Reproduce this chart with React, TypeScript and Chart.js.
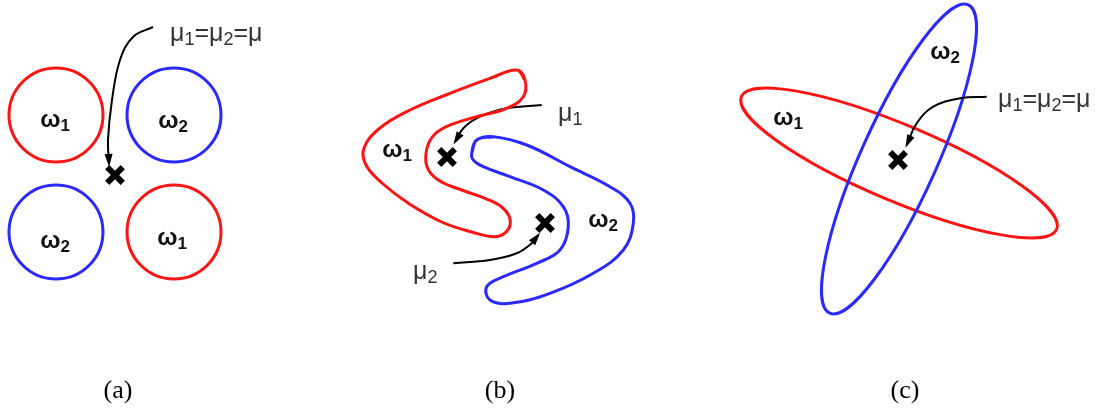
import React, { useEffect, useRef } from 'react';
import { Chart, registerables } from 'chart.js';

Chart.register(...registerables);

const W = 1102;
const H = 419;
const RED = '#ff1414';
const BLUE = '#2a2aff';
const classColor = (c: number) => (c === 1 ? RED : BLUE);

// ---- panel (a): four circular classes ----
const circleX = [56, 174, 56, 174];
const circleY = [115, 115, 232, 232];
const circleR = [47, 47, 47, 47];
const circleClass = [1, 2, 2, 1];

// ---- panel (c): two crossing ellipses ----
const ellipseX = [899, 899];
const ellipseY = [163, 159];
const ellipseRx = [171, 169];
const ellipseRy = [38, 38];
const ellipseAngleDeg = [22.8, -65.8];
const ellipseClass = [1, 2];

// ---- panel (b): boomerang outlines ----
const redShapeX = [516.7, 490, 450, 410, 380, 364, 366, 382, 408, 441.7, 471.7, 495, 507, 510, 501.7, 485, 461.7, 438.3, 427, 427, 435, 450, 476.7, 506.7, 523.3, 525];
const redShapeY = [70, 78.3, 93.3, 110, 128, 148, 165, 183, 203, 222, 232, 236.7, 231, 219, 207, 198.3, 190, 180, 166.7, 148, 134, 125, 116.7, 108.3, 96.7, 80];
const blueShapeX = [476.7, 493.3, 526.7, 570, 610, 630, 633.3, 623.3, 593.3, 550, 510, 490, 486.7, 503.3, 536.7, 560, 568.3, 563.3, 543.3, 510, 483.3, 473.3, 471.7];
const blueShapeY = [140, 136.7, 145, 166.7, 186.7, 203.3, 223.3, 250, 273.3, 293.3, 303.3, 300, 286.7, 276.7, 263.3, 250, 226.7, 206.7, 190, 176.7, 166.7, 160, 153.3];

// ---- class means (x marks) ----
const meanX = [115, 447, 545, 898];
const meanY = [175, 157, 223, 160];

// ---- curved arrows ----
const arrowAX = [153, 133, 120, 112, 108, 109];
const arrowAY = [27, 37, 60, 100, 140, 164];
const arrowB1X = [541.7, 506.7, 480, 463.3, 455];
const arrowB1Y = [105, 108.3, 116.7, 128.3, 142];
const arrowB2X = [453.3, 490, 516.7, 531.7, 538.3];
const arrowB2Y = [263.3, 260, 253.3, 243.3, 235];
const arrowCX = [986.7, 960, 933.3, 916.7, 906.7];
const arrowCY = [96.7, 98.3, 106.7, 123.3, 145];

// ---- labels ----
const omegaText = ['ω_1', 'ω_2', 'ω_2', 'ω_1', 'ω_1', 'ω_2', 'ω_1', 'ω_2'];
const omegaX = [55, 173, 55, 172, 397, 603, 788, 945];
const omegaY = [120, 121, 241, 238, 150, 220, 118, 52];
const muText = ['μ_1=μ_2=μ', 'μ_1', 'μ_2', 'μ_1=μ_2=μ'];
const muX = [170, 558, 413, 998];
const muY = [34, 114, 272, 100];
const panelText = ['(a)', '(b)', '(c)'];
const panelX = [118, 500, 905];
const panelY = [391, 391, 391];

const toPts = (xs: number[], ys: number[]) => xs.map((x, i) => ({ x, y: ys[i] }));
const closedPts = (xs: number[], ys: number[]) => {
  const p = toPts(xs, ys);
  return [p[p.length - 1], ...p, p[0], p[1]];
};

function parseRich(s: string) {
  const parts: { t: string; sub: boolean }[] = [];
  for (let i = 0; i < s.length; i++) {
    if (s[i] === '_' && i + 1 < s.length) {
      parts.push({ t: s[i + 1], sub: true });
      i++;
    } else parts.push({ t: s[i], sub: false });
  }
  return parts;
}

function drawRich(ctx: CanvasRenderingContext2D, s: string, x: number, y: number, size: number, weight: string, color: string, center: boolean) {
  const parts = parseRich(s);
  const family = 'Arial, "Liberation Sans", sans-serif';
  const subSize = Math.round(size * 0.72);
  let total = 0;
  for (const p of parts) {
    ctx.font = `${weight} ${p.sub ? subSize : size}px ${family}`;
    total += ctx.measureText(p.t).width;
  }
  let cx = center ? x - total / 2 : x;
  ctx.fillStyle = color;
  ctx.textBaseline = 'middle';
  ctx.textAlign = 'left';
  for (const p of parts) {
    ctx.font = `${weight} ${p.sub ? subSize : size}px ${family}`;
    ctx.fillText(p.t, cx, p.sub ? y + size * 0.26 : y);
    cx += ctx.measureText(p.t).width;
  }
}

const arrowSets = [
  [arrowAX, arrowAY],
  [arrowB1X, arrowB1Y],
  [arrowB2X, arrowB2Y],
  [arrowCX, arrowCY],
];

const diagramPlugin = {
  id: 'diagram',
  beforeDatasetsDraw(chart: any) {
    const { ctx, scales } = chart;
    const sx = scales.x;
    const sy = scales.y;
    ctx.save();
    ctx.lineWidth = 3;
    circleX.forEach((x, i) => {
      const px = sx.getPixelForValue(x);
      const py = sy.getPixelForValue(circleY[i]);
      const r = Math.abs(sx.getPixelForValue(x + circleR[i]) - px);
      ctx.strokeStyle = classColor(circleClass[i]);
      ctx.beginPath();
      ctx.arc(px, py, r, 0, Math.PI * 2);
      ctx.stroke();
    });
    ellipseX.forEach((x, i) => {
      const px = sx.getPixelForValue(x);
      const py = sy.getPixelForValue(ellipseY[i]);
      const rx = Math.abs(sx.getPixelForValue(x + ellipseRx[i]) - px);
      const ry = Math.abs(sx.getPixelForValue(x + ellipseRy[i]) - px);
      ctx.strokeStyle = classColor(ellipseClass[i]);
      ctx.beginPath();
      ctx.ellipse(px, py, rx, ry, (ellipseAngleDeg[i] * Math.PI) / 180, 0, Math.PI * 2);
      ctx.stroke();
    });
    ctx.restore();
  },
  afterDatasetsDraw(chart: any) {
    const { ctx, scales } = chart;
    const sx = scales.x;
    const sy = scales.y;
    ctx.save();
    arrowSets.forEach(([xs, ys]) => {
      const n = xs.length;
      const tx = sx.getPixelForValue(xs[n - 1]);
      const ty = sy.getPixelForValue(ys[n - 1]);
      const bx = sx.getPixelForValue(xs[n - 2]);
      const by = sy.getPixelForValue(ys[n - 2]);
      const a = Math.atan2(ty - by, tx - bx);
      const len = 10;
      const half = 4;
      ctx.fillStyle = '#000';
      ctx.beginPath();
      ctx.moveTo(tx + Math.cos(a) * 3, ty + Math.sin(a) * 3);
      ctx.lineTo(tx - Math.cos(a) * len + Math.cos(a + Math.PI / 2) * half, ty - Math.sin(a) * len + Math.sin(a + Math.PI / 2) * half);
      ctx.lineTo(tx - Math.cos(a) * len - Math.cos(a + Math.PI / 2) * half, ty - Math.sin(a) * len - Math.sin(a + Math.PI / 2) * half);
      ctx.closePath();
      ctx.fill();
    });
    omegaText.forEach((t, i) => {
      drawRich(ctx, t, sx.getPixelForValue(omegaX[i]), sy.getPixelForValue(omegaY[i]), 24, 'bold', '#111', true);
    });
    muText.forEach((t, i) => {
      drawRich(ctx, t, sx.getPixelForValue(muX[i]), sy.getPixelForValue(muY[i]), 25, 'normal', '#333', false);
    });
    panelText.forEach((t, i) => {
      ctx.font = '26px "Liberation Serif", "Times New Roman", serif';
      ctx.fillStyle = '#000';
      ctx.textAlign = 'center';
      ctx.textBaseline = 'middle';
      ctx.fillText(t, sx.getPixelForValue(panelX[i]), sy.getPixelForValue(panelY[i]));
    });
    ctx.restore();
  },
};

export default function App() {
  const ref = useRef<HTMLCanvasElement>(null);
  useEffect(() => {
    if (!ref.current) return;
    const lineDs = (data: any[], color: string, width: number, tension: number) => ({
      type: 'scatter' as const,
      data,
      showLine: true,
      borderColor: color,
      backgroundColor: color,
      borderWidth: width,
      pointRadius: 0,
      tension,
      fill: false,
    });
    const chart = new Chart(ref.current, {
      type: 'scatter',
      data: {
        datasets: [
          lineDs(closedPts(redShapeX, redShapeY), RED, 3, 0.4),
          lineDs(closedPts(blueShapeX, blueShapeY), BLUE, 3, 0.4),
          lineDs(toPts(arrowAX, arrowAY), '#000', 2, 0.4),
          lineDs(toPts(arrowB1X, arrowB1Y), '#000', 2, 0.4),
          lineDs(toPts(arrowB2X, arrowB2Y), '#000', 2, 0.4),
          lineDs(toPts(arrowCX, arrowCY), '#000', 2, 0.4),
          {
            data: toPts(meanX, meanY),
            pointStyle: 'crossRot',
            pointRadius: 11,
            borderWidth: 6,
            borderColor: '#000',
            backgroundColor: '#000',
            showLine: false,
          } as any,
        ],
      },
      options: {
        responsive: false,
        animation: false,
        events: [],
        layout: { padding: 0, autoPadding: false },
        plugins: { legend: { display: false }, tooltip: { enabled: false } },
        elements: { line: { capBezierPoints: false } },
        scales: {
          x: { type: 'linear', min: 0, max: W, display: false },
          y: { type: 'linear', min: 0, max: H, reverse: true, display: false },
        },
      },
      plugins: [diagramPlugin],
    });
    return () => chart.destroy();
  }, []);
  return (
    <div style={{ position: 'absolute', left: 0, top: 0, width: W, height: H, background: '#fff' }}>
      <canvas ref={ref} width={W} height={H} />
    </div>
  );
}
